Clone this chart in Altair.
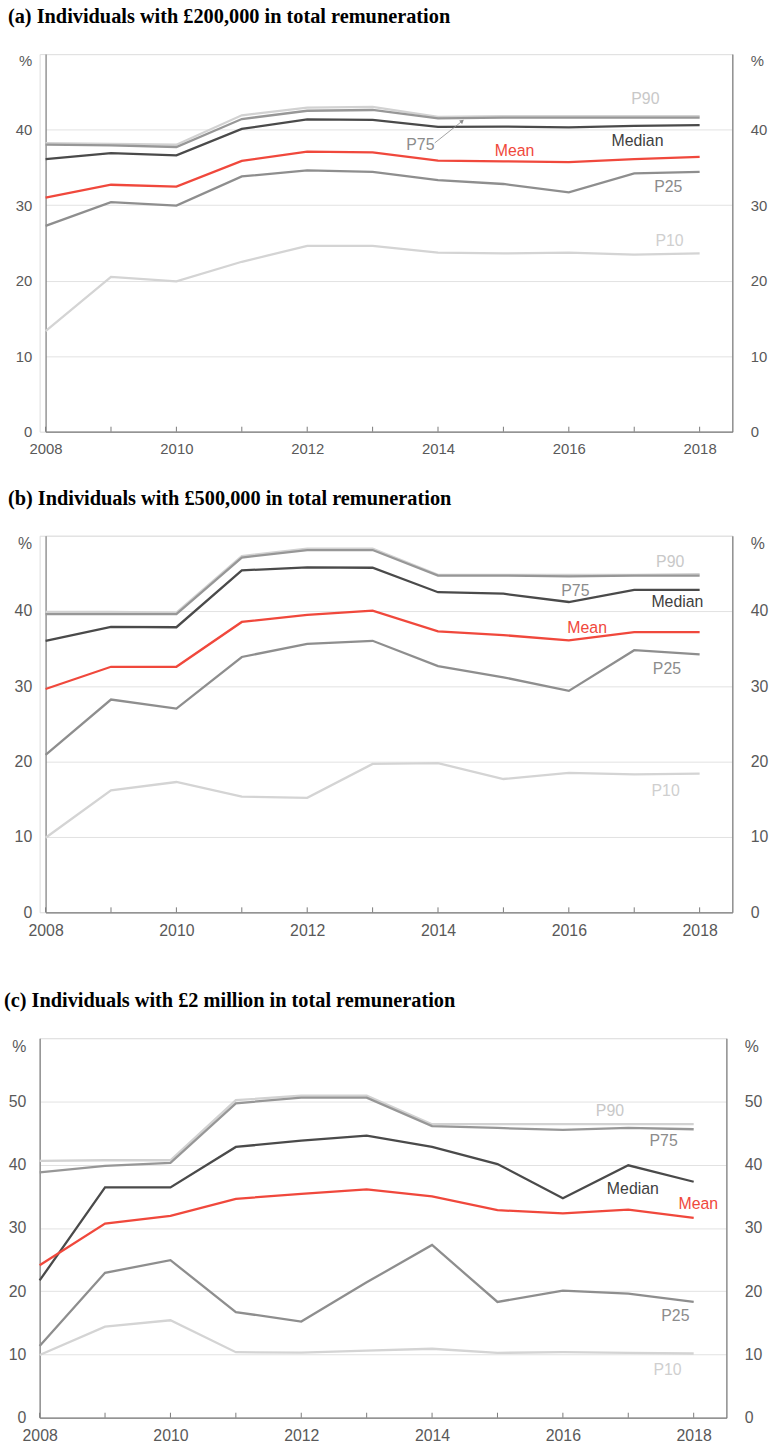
import altair as alt
import pandas as pd

years = list(range(2008, 2019))

# Panel (a): £200,000
a_p90 = [38.2, 38.1, 38.0, 41.9, 42.9, 43.0, 41.7, 41.8, 41.8, 41.8, 41.8]
a_p75 = [38.0, 37.9, 37.7, 41.4, 42.5, 42.6, 41.5, 41.6, 41.6, 41.6, 41.6]
a_median = [36.1, 36.9, 36.6, 40.1, 41.35, 41.3, 40.35, 40.4, 40.3, 40.5, 40.6]
a_mean = [31.0, 32.7, 32.45, 35.85, 37.1, 37.0, 35.9, 35.8, 35.7, 36.1, 36.4]
a_p25 = [27.25, 30.4, 29.95, 33.8, 34.6, 34.4, 33.3, 32.8, 31.7, 34.2, 34.4]
a_p10 = [13.3, 20.5, 19.9, 22.5, 24.6, 24.6, 23.7, 23.6, 23.7, 23.45, 23.6]

# Panel (b): £500,000
b_p90 = [39.9, 39.9, 39.8, 47.3, 48.3, 48.3, 44.8, 44.8, 44.8, 44.8, 44.9]
b_p75 = [39.6, 39.6, 39.6, 47.1, 48.1, 48.1, 44.7, 44.7, 44.6, 44.7, 44.7]
b_median = [36.05, 37.9, 37.85, 45.4, 45.8, 45.75, 42.5, 42.3, 41.2, 42.8, 42.8]
b_mean = [29.65, 32.6, 32.6, 38.55, 39.5, 40.05, 37.3, 36.8, 36.1, 37.2, 37.2]
b_p25 = [20.9, 28.25, 27.05, 33.9, 35.65, 36.05, 32.7, 31.2, 29.4, 34.8, 34.25]
b_p10 = [9.9, 16.2, 17.3, 15.35, 15.2, 19.7, 19.8, 17.7, 18.5, 18.3, 18.4]

# Panel (c): £2 million
c_p90 = [40.6, 40.7, 40.7, 50.2, 50.9, 50.9, 46.4, 46.4, 46.4, 46.4, 46.4]
c_p75 = [38.8, 39.8, 40.3, 49.7, 50.6, 50.6, 46.1, 45.8, 45.5, 45.8, 45.6]
c_median = [21.7, 36.4, 36.4, 42.8, 43.8, 44.6, 42.8, 40.1, 34.7, 39.9, 37.3]
c_mean = [24.1, 30.7, 31.9, 34.6, 35.4, 36.1, 35.0, 32.8, 32.3, 32.9, 31.6]
c_p25 = [11.35, 22.9, 24.9, 16.7, 15.2, 21.4, 27.3, 18.3, 20.1, 19.6, 18.3]
c_p10 = [9.9, 14.4, 15.4, 10.35, 10.3, 10.6, 10.9, 10.25, 10.35, 10.25, 10.15]

series_names = ["P90", "P75", "Median", "Mean", "P25", "P10"]

# Label anchor positions (data coordinates)
a_label_x = [2017.17, 2013.73, 2017.05, 2015.17, 2017.52, 2017.54]
a_label_y = [44.05, 38.0, 38.5, 37.2, 32.4, 25.3]
b_label_x = [2017.55, 2016.1, 2017.66, 2016.28, 2017.5, 2017.48]
b_label_y = [46.5, 42.7, 41.2, 37.8, 32.3, 16.1]
c_label_x = [2016.72, 2017.54, 2017.07, 2018.07, 2017.72, 2017.6]
c_label_y = [48.4, 43.8, 36.1, 33.75, 16.1, 7.5]

line_colors = {"P90": "#d2d2d2", "P75": "#979797", "Median": "#4a4a4a",
               "Mean": "#f0483c", "P25": "#8e8e8e", "P10": "#d4d4d4"}
text_colors = {"P90": "#c8c8c8", "P75": "#8c8c8c", "Median": "#404040",
               "Mean": "#f0483c", "P25": "#8c8c8c", "P10": "#cfcfcf"}
draw_order = ["P90", "P10", "P25", "P75", "Median", "Mean"]

SANS = "Liberation Sans"
SERIF = "Liberation Serif"
AXIS_COLOR = "#7a7a7a"
LABEL_COLOR = "#595959"
GRID_COLOR = "#e2e2e2"
W = 693


def panel(title, vals, ymax, height, lx, ly, tick_fs, inset=0, arrow=None, title_dx=0):
    df = pd.DataFrame({
        "year": years * len(series_names),
        "value": sum([vals[s] for s in series_names], []),
        "series": sum([[s] * len(years) for s in series_names], []),
    })
    width = W + inset
    if inset:
        xscale = alt.Scale(domain=[2008, 2018.5], nice=False, zero=False, range=[inset, width])
    else:
        xscale = alt.Scale(domain=[2008, 2018.5], nice=False, zero=False)
    yscale = alt.Scale(domain=[0, ymax], nice=False)
    xaxis = alt.Axis(values=list(range(2008, 2019, 2)), format="d", ticks=False,
                     grid=False, domainColor=AXIS_COLOR, domainWidth=1.2,
                     labelFont=SANS, labelFontSize=tick_fs, labelColor=LABEL_COLOR,
                     labelPadding=10, labelFlush=False, title=None)
    yvals = list(range(0, ymax + 1, 10))
    lab_expr = f"datum.value == {ymax} ? '%' : datum.label"
    common = dict(values=yvals, labelExpr=lab_expr, ticks=False, domainColor=AXIS_COLOR,
                  domainWidth=1.2, labelFont=SANS, labelFontSize=tick_fs,
                  labelColor=LABEL_COLOR, labelBound=False, labelFlush=False,
                  labelBaseline={"condition": {"test": f"datum.value == {ymax}", "value": "top"},
                                 "value": "middle"},
                  title=None)
    left_kw = dict(orient="left", grid=True, gridColor=GRID_COLOR, labelPadding=14,
                   minExtent=34)
    if inset:
        left_kw["offset"] = -inset
    left_axis = alt.Axis(**left_kw, **common)
    right_axis = alt.Axis(orient="right", grid=False, labelPadding=18, **common)

    layers = []
    for i, s in enumerate(draw_order):
        if i == 0:
            ax = left_axis
        elif i == 1:
            ax = right_axis
        else:
            ax = None
        layers.append(
            alt.Chart(df).transform_filter(alt.datum.series == s).mark_line(
                strokeWidth=2.3, color=line_colors[s]
            ).encode(
                x=alt.X("year:Q", scale=xscale, axis=xaxis),
                y=alt.Y("value:Q", scale=yscale, axis=ax),
            )
        )
    # inward x-axis ticks, one per year
    tick_df = pd.DataFrame({"year": years})
    layers.append(
        alt.Chart(tick_df).mark_rule(color=AXIS_COLOR, strokeWidth=1).encode(
            x=alt.X("year:Q", scale=xscale, axis=xaxis),
            y=alt.value(height),
            y2=alt.value(height - 5),
        )
    )
    lab_df = pd.DataFrame({"x": lx, "y": ly, "label": series_names})
    layers.append(
        alt.Chart(lab_df).mark_text(font=SANS, fontSize=16, align="center", baseline="middle").encode(
            x=alt.X("x:Q", scale=xscale, axis=xaxis),
            y=alt.Y("y:Q", scale=yscale, axis=None),
            text="label:N",
            color=alt.Color("label:N", scale=alt.Scale(domain=series_names,
                                                       range=[text_colors[s] for s in series_names]),
                            legend=None),
        )
    )
    if arrow is not None:
        arr_df = pd.DataFrame({"x": [arrow[0]], "y": [arrow[1]], "x2": [arrow[2]], "y2": [arrow[3]]})
        layers.append(
            alt.Chart(arr_df).mark_rule(color="#8c8c8c", strokeWidth=0.8).encode(
                x=alt.X("x:Q", scale=xscale, axis=xaxis),
                y=alt.Y("y:Q", scale=yscale, axis=None),
                x2="x2:Q", y2="y2:Q",
            )
        )
        layers.append(
            alt.Chart(arr_df).mark_point(shape="triangle-up", filled=True, color="#8c8c8c",
                                         size=22, angle=51, opacity=1).encode(
                x=alt.X("x2:Q", scale=xscale, axis=xaxis),
                y=alt.Y("y2:Q", scale=yscale, axis=None),
            )
        )
    return alt.layer(*layers).resolve_axis(y="independent").properties(
        width=width, height=height,
        title=alt.TitleParams(title, anchor="start", font=SERIF, fontSize=20.5,
                              fontWeight="bold", color="#000000", offset=27, dx=title_dx),
    )


def vals_of(p90, p75, med, mean, p25, p10):
    return {"P90": p90, "P75": p75, "Median": med, "Mean": mean, "P25": p25, "P10": p10}


chart_a = panel("(a) Individuals with £200,000 in total remuneration",
                vals_of(a_p90, a_p75, a_median, a_mean, a_p25, a_p10),
                50, 381, a_label_x, a_label_y, 15, inset=6,
                arrow=(2013.95, 38.24, 2014.37, 41.13), title_dx=-4)
chart_b = panel("(b) Individuals with £500,000 in total remuneration",
                vals_of(b_p90, b_p75, b_median, b_mean, b_p25, b_p10),
                50, 380, b_label_x, b_label_y, 16, inset=6, title_dx=-4)
chart_c = panel("(c) Individuals with £2 million in total remuneration",
                vals_of(c_p90, c_p75, c_median, c_mean, c_p25, c_p10),
                60, 383, c_label_x, c_label_y, 16, inset=0, title_dx=-2)

chart = alt.vconcat(
    alt.vconcat(chart_a, chart_b, spacing=31),
    chart_c, spacing=52,
).properties(
    padding={"left": 3, "top": 0, "right": 0, "bottom": 0}
).configure_view(stroke=None).configure(background="white")

chart.save("out.html", embed_options={"renderer": "svg", "actions": False})
